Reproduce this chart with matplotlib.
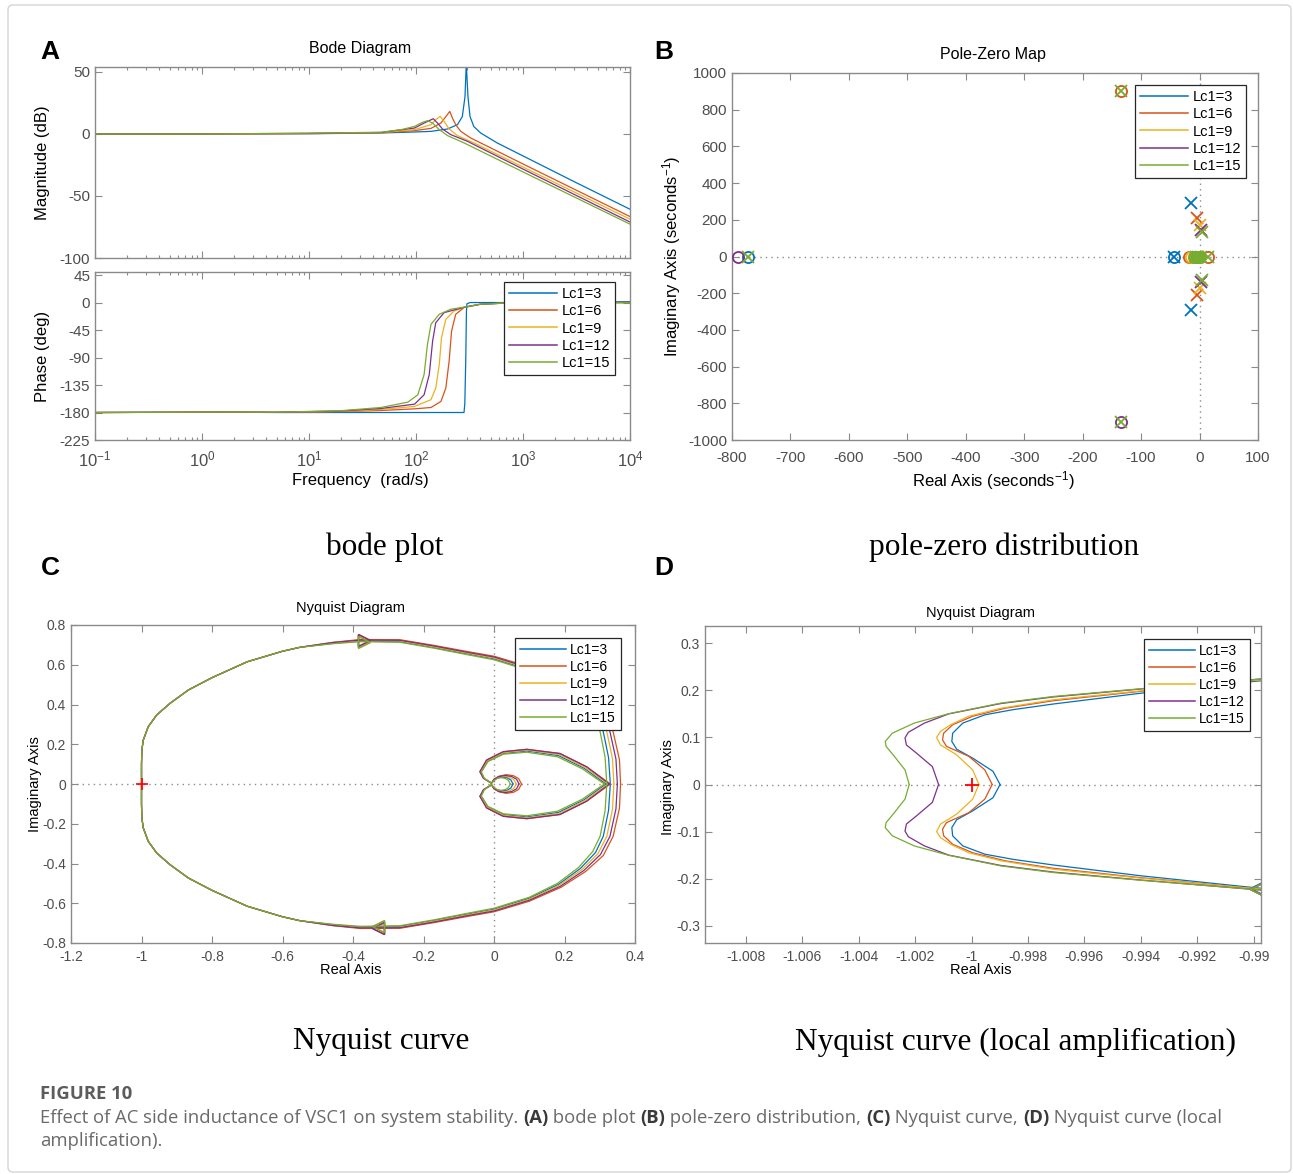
import numpy as np
import matplotlib
matplotlib.use("Agg")
import matplotlib.pyplot as plt
from matplotlib.patches import FancyBboxPatch
from matplotlib.lines import Line2D
from matplotlib.ticker import LogLocator, NullFormatter, FuncFormatter

plt.rcParams['font.family'] = ['Liberation Sans', 'DejaVu Sans']
plt.rcParams['mathtext.fontset'] = 'custom'
plt.rcParams['mathtext.rm'] = 'Liberation Sans'
plt.rcParams['mathtext.it'] = 'Liberation Sans:italic'
plt.rcParams['mathtext.bf'] = 'Liberation Sans:bold'
plt.rcParams['axes.unicode_minus'] = False

# ---------------- data ----------------
labels = ['Lc1=3', 'Lc1=6', 'Lc1=9', 'Lc1=12', 'Lc1=15']
colors = ['#0072BD', '#D95319', '#EDB120', '#7E2F8E', '#77AC30']

# Bode magnitude (rad/s, dB)
mag_w_3 = [0.1, 1, 10, 47, 97, 138, 197, 244, 271, 287, 295, 306, 320, 347, 402, 573, 1000, 3000, 10000]
mag_db_3 = [0, 0.05, 0.2, 0.8, 1.6, 2.1, 4.0, 7.5, 14, 30, 57, 30, 14, 6, 0.8, -7.2, -17.7, -38.4, -60.7]
mag_w_6 = [0.1, 1, 10, 47, 97, 138, 171, 190, 207, 219, 235, 262, 324, 498, 1000, 10000]
mag_db_6 = [0, 0.05, 0.3, 1.0, 2.7, 4.5, 8.8, 14, 18.2, 12.8, 7.5, 2.1, -3.2, -11.2, -24.2, -66.6]
mag_w_9 = [0.1, 1, 10, 47, 97, 138, 153, 168, 183, 204, 244, 348, 1000, 10000]
mag_db_9 = [0, 0.05, 0.4, 1.1, 3.5, 7.5, 11.5, 14.2, 10.2, 4.0, -1.3, -7.2, -26.7, -68.7]
mag_w_12 = [0.1, 1, 10, 47, 97, 119, 145, 159, 177, 211, 302, 1000, 10000]
mag_db_12 = [0, 0.05, 0.5, 1.2, 4.8, 8.8, 12.3, 8.8, 4.0, -0.5, -5.9, -28.3, -71.0]
mag_w_15 = [0.1, 1, 10, 47, 73, 97, 115, 128, 143, 165, 197, 281, 1000, 10000]
mag_db_15 = [0, 0.05, 0.6, 1.4, 3.5, 6.1, 9.4, 10.7, 8.8, 3.5, -1.3, -7.2, -30.6, -72.7]

# Bode phase (rad/s, deg)
ph_w_3 = [0.1, 1.5, 5, 281, 286, 292, 296, 299, 320, 1000, 3000, 10000]
ph_deg_3 = [-180, -179.4, -180, -180, -165, -90, -15, -2, 0, 0, 0.5, 1.5]
ph_w_6 = [0.1, 1.5, 5, 20, 47, 97, 138, 171, 190, 204, 215, 235, 281, 402, 762, 10000]
ph_deg_6 = [-180, -179.4, -179.8, -178.5, -176.7, -174, -171.8, -161.9, -140, -96, -46.7, -19.2, -8.2, -2.7, -0.5, 0]
ph_w_9 = [0.1, 1.5, 5, 20, 47, 97, 138, 153, 165, 173, 190, 227, 291, 402, 762, 10000]
ph_deg_9 = [-180, -179.4, -179.7, -178, -175, -170, -159, -140, -101.5, -57.6, -27.4, -13.7, -7.1, -2.7, -0.5, 0]
ph_w_12 = [0.1, 1.5, 5, 20, 47, 97, 119, 133, 143, 153, 183, 291, 402, 762, 10000]
ph_deg_12 = [-180, -179.4, -179.6, -177.5, -173.4, -166.3, -151, -118, -63, -33, -16.5, -7.1, -2.7, -0.5, 0]
ph_w_15 = [0.1, 1.5, 5, 20, 47, 84, 104, 119, 128, 138, 165, 211, 291, 402, 762, 10000]
ph_deg_15 = [-180, -179.4, -179.5, -177, -171.8, -163, -151, -118, -68.6, -35.7, -19.2, -11, -7.1, -2.7, -0.5, 0]

# Pole-zero map (real, imag)
zero_re_3 = [-772, -44, -5]
zero_im_3 = [0, 0, 0]
pole_re_3 = [-44, -15, -15]
pole_im_3 = [0, 293, -293]
zero_re_6 = [-17.5, 15, -134.5]
zero_im_6 = [0, 0, 903]
pole_re_6 = [-3.8, -3.8]
pole_im_6 = [211, -210]
zero_re_9 = [-14, -10]
zero_im_9 = [0, 0]
pole_re_9 = [0.9, 0.9]
pole_im_9 = [173, -173]
zero_re_12 = [-790, -134.5]
zero_im_12 = [0, -903]
pole_re_12 = [2.6, 2.6]
pole_im_12 = [146, -140]
zero_re_15 = [-9, -7, -5, -3, -1, 1]
zero_im_15 = [0, 0, 0, 0, 0, 0]
pole_re_15 = [-772, -134.5, -134.5, 15, 4.3, 4.3, -6, -2, 2]
pole_im_15 = [0, 903, -903, 0, 133, -128, 0, 0, 0]

# Nyquist (full view) : common left arc, upper half
nyq_left_re = [-1.0, -1.0, -0.999, -0.995, -0.981, -0.957, -0.919, -0.867, -0.8, -0.7, -0.6, -0.55]
nyq_left_im = [0.0, 0.10, 0.17, 0.221, 0.288, 0.347, 0.406, 0.473, 0.535, 0.615, 0.668, 0.688]
# per-series right part of the arc, upper half
arc_re_3 = [-0.456, -0.38, -0.267, -0.172, -0.077, 0.0, 0.1, 0.183, 0.245, 0.288, 0.31, 0.325, 0.33]
arc_im_3 = [0.708, 0.719, 0.716, 0.687, 0.655, 0.630, 0.575, 0.505, 0.425, 0.345, 0.263, 0.133, 0.0]
arc_re_6 = [-0.456, -0.38, -0.267, -0.172, -0.077, 0.0, 0.1, 0.19, 0.26, 0.31, 0.338, 0.356, 0.359]
arc_im_6 = [0.713, 0.727, 0.726, 0.698, 0.667, 0.643, 0.59, 0.52, 0.44, 0.36, 0.263, 0.121, 0.0]
arc_re_9 = [-0.456, -0.38, -0.267, -0.172, -0.077, 0.0, 0.1, 0.185, 0.25, 0.295, 0.32, 0.336, 0.34]
arc_im_9 = [0.710, 0.721, 0.720, 0.691, 0.659, 0.634, 0.58, 0.51, 0.43, 0.35, 0.263, 0.129, 0.0]
arc_re_12 = [-0.456, -0.38, -0.267, -0.172, -0.077, 0.0, 0.1, 0.188, 0.255, 0.302, 0.329, 0.346, 0.35]
arc_im_12 = [0.712, 0.724, 0.723, 0.695, 0.663, 0.639, 0.585, 0.515, 0.435, 0.355, 0.263, 0.125, 0.0]
arc_re_15 = [-0.456, -0.38, -0.267, -0.172, -0.077, 0.0, 0.1, 0.18, 0.24, 0.28, 0.301, 0.315, 0.32]
arc_im_15 = [0.706, 0.716, 0.713, 0.684, 0.651, 0.625, 0.57, 0.50, 0.42, 0.34, 0.263, 0.137, 0.0]
# lobe + small loop, upper half
lobe_re_3 = [0.318, 0.255, 0.183, 0.093, 0.027, -0.018, -0.037, -0.028, -0.007, 0.0, 0.01, 0.024, 0.038, 0.048, 0.054]
lobe_im_3 = [0.0, 0.08, 0.143, 0.166, 0.154, 0.115, 0.06, 0.028, 0.004, 0.019, 0.031, 0.035, 0.031, 0.02, 0.0]
lobe_re_6 = [0.33, 0.263, 0.187, 0.093, 0.026, -0.021, -0.04, -0.03, -0.007, 0.0, 0.015, 0.035, 0.055, 0.07, 0.078]
lobe_im_6 = [0.0, 0.087, 0.154, 0.175, 0.163, 0.121, 0.062, 0.029, 0.004, 0.025, 0.04, 0.047, 0.042, 0.027, 0.0]
lobe_re_9 = [0.323, 0.258, 0.185, 0.093, 0.027, -0.019, -0.038, -0.029, -0.007, 0.0, 0.012, 0.028, 0.044, 0.056, 0.063]
lobe_im_9 = [0.0, 0.083, 0.148, 0.17, 0.158, 0.117, 0.061, 0.028, 0.004, 0.021, 0.034, 0.039, 0.035, 0.022, 0.0]
lobe_re_12 = [0.327, 0.262, 0.187, 0.093, 0.026, -0.021, -0.04, -0.03, -0.007, 0.0, 0.013, 0.032, 0.05, 0.064, 0.071]
lobe_im_12 = [0.0, 0.087, 0.153, 0.174, 0.162, 0.12, 0.062, 0.029, 0.004, 0.023, 0.037, 0.043, 0.038, 0.024, 0.0]
lobe_re_15 = [0.313, 0.25, 0.18, 0.093, 0.027, -0.017, -0.036, -0.027, -0.007, 0.0, 0.009, 0.02, 0.032, 0.041, 0.046]
lobe_im_15 = [0.0, 0.077, 0.137, 0.16, 0.15, 0.113, 0.06, 0.027, 0.004, 0.017, 0.028, 0.032, 0.028, 0.018, 0.0]
arrow_top_im = [0.719, 0.727, 0.721, 0.724, 0.716]
arrow_bot_im = [-0.719, -0.727, -0.721, -0.724, -0.716]

# Nyquist (local amplification), upper half
zoom_re_3 = [-0.99899, -0.99924, -0.99996, -1.00053, -1.0007, -1.00067, -1.00031, -0.99953, -0.99853, -0.9971, -0.99399, -0.990, -0.9895]
zoom_im_3 = [0.0, 0.028, 0.056, 0.075, 0.0915, 0.109, 0.1305, 0.148, 0.159, 0.171, 0.194, 0.219, 0.2215]
zoom_re_6 = [-0.99927, -0.99953, -1.0001, -1.00089, -1.00103, -1.00099, -1.00067, -0.99996, -0.99881, -0.9971, -0.99399, -0.990, -0.9895]
zoom_im_6 = [0.0, 0.031, 0.06, 0.081, 0.095, 0.109, 0.127, 0.145, 0.162, 0.178, 0.198, 0.221, 0.2235]
zoom_re_9 = [-0.99974, -0.99996, -1.00053, -1.0011, -1.00124, -1.0011, -1.00074, -1.0001, -0.99896, -0.9971, -0.99399, -0.990, -0.9895]
zoom_im_9 = [0.0, 0.031, 0.063, 0.084, 0.1, 0.113, 0.127, 0.145, 0.162, 0.18, 0.199, 0.221, 0.2235]
zoom_re_12 = [-1.00117, -1.00139, -1.00196, -1.00231, -1.00236, -1.00224, -1.00167, -1.00081, -0.99896, -0.9971, -0.99399, -0.990, -0.9895]
zoom_im_12 = [0.0, 0.038, 0.067, 0.084, 0.099, 0.111, 0.1305, 0.150, 0.172, 0.186, 0.203, 0.223, 0.2255]
zoom_re_15 = [-1.00221, -1.00236, -1.00274, -1.00303, -1.00306, -1.00281, -1.00203, -1.00081, -0.99896, -0.9971, -0.99399, -0.990, -0.9895]
zoom_im_15 = [0.0, 0.031, 0.06, 0.081, 0.0915, 0.109, 0.1305, 0.1504, 0.173, 0.187, 0.2035, 0.2227, 0.225]
zoom_arrow_re = [-0.98992, -0.98992, -0.98992, -0.98992, -0.98992]
zoom_arrow_im = [-0.219, -0.221, -0.221, -0.223, -0.2227]

# ---------------- figure ----------------
W, H = 1293, 1174
fig = plt.figure(figsize=(W / 100, H / 100), dpi=100)
fig.patch.set_facecolor('white')
fig.patches.append(FancyBboxPatch((8 / W, 2 / H), 1283 / W, 1167 / H,
                                  boxstyle='round,pad=0,rounding_size=0.004',
                                  transform=fig.transFigure, fill=False,
                                  edgecolor='#d4d4d4', linewidth=1.0))

SP = '#8a8a8a'
TL = '#4d4d4d'


def ax_at(l, t, r, b):
    return fig.add_axes([l / W, 1 - b / H, (r - l) / W, (b - t) / H])


def style(ax, fs):
    for s in ax.spines.values():
        s.set_color(SP)
        s.set_linewidth(1.0)
    ax.tick_params(which='both', direction='in', top=True, right=True,
                   color=SP, labelcolor=TL, labelsize=fs, width=0.8)
    ax.tick_params(which='major', length=5)
    ax.tick_params(which='minor', length=2.5)


def ftext(x, y, s, **kw):
    return fig.text(x / W, 1 - y / H, s, ha=kw.pop('ha', 'center'),
                    va=kw.pop('va', 'center'), **kw)


def legend(ax, anchor, fs):
    hs = [Line2D([], [], color=c, lw=1.1) for c in colors]
    lg = ax.legend(hs, labels, loc='upper right', bbox_to_anchor=anchor,
                   fontsize=fs, handlelength=3.3, handletextpad=0.3,
                   labelspacing=0.22, borderpad=0.35, borderaxespad=0,
                   frameon=True, fancybox=False, framealpha=1,
                   edgecolor='#262626')
    lg.get_frame().set_linewidth(0.9)
    return lg


gfmt = FuncFormatter(lambda v, p: '%g' % round(v, 6) if abs(v) > 1e-12 else '0')

# ---- A: Bode ----
axm = ax_at(95, 67, 630, 258)
axp = ax_at(95, 272, 630, 440)
mag_w = [mag_w_3, mag_w_6, mag_w_9, mag_w_12, mag_w_15]
mag_db = [mag_db_3, mag_db_6, mag_db_9, mag_db_12, mag_db_15]
ph_w = [ph_w_3, ph_w_6, ph_w_9, ph_w_12, ph_w_15]
ph_deg = [ph_deg_3, ph_deg_6, ph_deg_9, ph_deg_12, ph_deg_15]
for i in range(5):
    axm.plot(mag_w[i], mag_db[i], color=colors[i], lw=0.9)
    axp.plot(ph_w[i], ph_deg[i], color=colors[i], lw=0.9)
for ax in (axm, axp):
    ax.set_xscale('log')
    ax.set_xlim(0.1, 1e4)
    ax.xaxis.set_major_locator(LogLocator(base=10, numticks=12))
    ax.xaxis.set_minor_locator(LogLocator(base=10, subs=np.arange(2, 10) * 1.0, numticks=100))
    ax.xaxis.set_minor_formatter(NullFormatter())
    style(ax, 11)
axm.set_ylim(-100, 54)
axm.set_yticks([-100, -50, 0, 50])
axm.tick_params(labelbottom=False)
axp.set_ylim(-225, 50)
axp.set_yticks([-225, -180, -135, -90, -45, 0, 45])
axp.tick_params(axis='x', labelsize=12, pad=7)
legend(axp, ((615 - 95) / 535, (440 - 282) / 168), 10.5)
ftext(50, 52, 'A', fontsize=19, fontweight='bold')
ftext(360, 48, 'Bode Diagram', fontsize=11.5)
ftext(42, 163, 'Magnitude (dB)', fontsize=12, rotation=90)
ftext(42, 356, 'Phase (deg)', fontsize=12, rotation=90)
ftext(360, 481, 'Frequency  (rad/s)', fontsize=12)

# ---- B: Pole-zero ----
axb = ax_at(732, 73, 1258, 440)
zr = [zero_re_3, zero_re_6, zero_re_9, zero_re_12, zero_re_15]
zi = [zero_im_3, zero_im_6, zero_im_9, zero_im_12, zero_im_15]
pr = [pole_re_3, pole_re_6, pole_re_9, pole_re_12, pole_re_15]
pi_ = [pole_im_3, pole_im_6, pole_im_9, pole_im_12, pole_im_15]
axb.axhline(0, color='#8c8c8c', ls=(0, (1, 3)), lw=1.0, zorder=1)
axb.axvline(0, color='#8c8c8c', ls=(0, (1, 3)), lw=1.0, zorder=1)
for i in range(5):
    axb.plot(zr[i], zi[i], ls='none', marker='o', ms=8, mfc='none',
             mec=colors[i], mew=1.3, zorder=3)
    axb.plot(pr[i], pi_[i], ls='none', marker='x', ms=8, mec=colors[i],
             mew=1.3, zorder=4)
axb.set_xlim(-800, 100)
axb.set_ylim(-1000, 1000)
axb.set_xticks(np.arange(-800, 101, 100))
axb.set_yticks(np.arange(-1000, 1001, 200))
style(axb, 11)
axb.tick_params(axis='x', pad=8)
legend(axb, ((1246 - 732) / 526, (440 - 85) / 367), 10.5)
ftext(664, 52, 'B', fontsize=19, fontweight='bold')
ftext(993, 55, 'Pole-Zero Map', fontsize=11.5)
ftext(993, 481, 'Real Axis (seconds$^{-1}$)', fontsize=12)
ftext(672, 256, 'Imaginary Axis (seconds$^{-1}$)', fontsize=12, rotation=90)

# ---- C: Nyquist ----
axc = ax_at(71, 625, 635, 943)
arc_re = [arc_re_3, arc_re_6, arc_re_9, arc_re_12, arc_re_15]
arc_im = [arc_im_3, arc_im_6, arc_im_9, arc_im_12, arc_im_15]
lobe_re = [lobe_re_3, lobe_re_6, lobe_re_9, lobe_re_12, lobe_re_15]
lobe_im = [lobe_im_3, lobe_im_6, lobe_im_9, lobe_im_12, lobe_im_15]
axc.axhline(0, color='#8c8c8c', ls=(0, (1, 3)), lw=1.0, zorder=1)
axc.axvline(0, color='#8c8c8c', ls=(0, (1, 3)), lw=1.0, zorder=1)
for i in range(5):
    ure = np.concatenate([nyq_left_re, arc_re[i]])
    uim = np.concatenate([nyq_left_im, arc_im[i]])
    axc.plot(ure, uim, color=colors[i], lw=0.9)
    axc.plot(ure, -uim, color=colors[i], lw=0.9)
    axc.plot(lobe_re[i], lobe_im[i], color=colors[i], lw=0.9)
    axc.plot(lobe_re[i], -np.asarray(lobe_im[i]), color=colors[i], lw=0.9)
    axc.plot([-0.37], [arrow_top_im[i]], marker='>', ms=8, mfc='none',
             mec=colors[i], mew=1.0)
    axc.plot([-0.33], [arrow_bot_im[i]], marker='<', ms=8, mfc='none',
             mec=colors[i], mew=1.0)
axc.plot([-1], [0], marker='+', color='red', ms=9, mew=1.2)
axc.set_xlim(-1.2, 0.4)
axc.set_ylim(-0.8, 0.8)
axc.set_xticks(np.round(np.arange(-1.2, 0.41, 0.2), 1))
axc.set_yticks(np.round(np.arange(-0.8, 0.81, 0.2), 1))
axc.xaxis.set_major_formatter(gfmt)
axc.yaxis.set_major_formatter(gfmt)
style(axc, 10)
axc.tick_params(axis='x', pad=5)
legend(axc, ((621 - 71) / 564, (943 - 638) / 318), 10)
ftext(50, 568, 'C', fontsize=19, fontweight='bold')
ftext(351, 608, 'Nyquist Diagram', fontsize=10.5)
ftext(351, 970, 'Real Axis', fontsize=10.5)
ftext(35, 784, 'Imaginary Axis', fontsize=10.5, rotation=90)

# ---- D: Nyquist zoom ----
axd = ax_at(705, 626, 1261, 943)
zre = [zoom_re_3, zoom_re_6, zoom_re_9, zoom_re_12, zoom_re_15]
zim = [zoom_im_3, zoom_im_6, zoom_im_9, zoom_im_12, zoom_im_15]
axd.axhline(0, color='#8c8c8c', ls=(0, (1, 3)), lw=1.0, zorder=1)
for i in range(5):
    axd.plot(zre[i], zim[i], color=colors[i], lw=0.9)
    axd.plot(zre[i], -np.asarray(zim[i]), color=colors[i], lw=0.9)
    axd.plot([zoom_arrow_re[i]], [zoom_arrow_im[i]], marker='<', ms=8,
             mfc='none', mec=colors[i], mew=1.0)
axd.plot([-1], [0], marker='+', color='red', ms=10, mew=1.3)
axd.set_xlim(-1.00945, -0.98974)
axd.set_ylim(-0.3367, 0.3367)
axd.set_xticks([-1.008, -1.006, -1.004, -1.002, -1.0, -0.998, -0.996, -0.994, -0.992, -0.99])
axd.set_yticks([-0.3, -0.2, -0.1, 0, 0.1, 0.2, 0.3])
axd.xaxis.set_major_formatter(gfmt)
axd.yaxis.set_major_formatter(gfmt)
style(axd, 10)
axd.tick_params(axis='x', pad=5)
legend(axd, ((1250 - 705) / 556, (943 - 639) / 317), 10)
ftext(664, 568, 'D', fontsize=19, fontweight='bold')
ftext(981, 613, 'Nyquist Diagram', fontsize=10.5)
ftext(981, 970, 'Real Axis', fontsize=10.5)
ftext(668, 787, 'Imaginary Axis', fontsize=10.5, rotation=90)

# ---- serif captions ----
serif = ['Liberation Serif', 'DejaVu Serif']
ftext(385, 547, 'bode plot', fontsize=22.5, family=serif)
ftext(1004, 547, 'pole-zero distribution', fontsize=22.5, family=serif)
ftext(381, 1042, 'Nyquist curve', fontsize=22.5, family=serif)
ftext(1015, 1042, 'Nyquist curve (local amplification)', fontsize=22.5, family=serif)

# ---- figure caption ----
cap_family = ['Open Sans', 'DejaVu Sans']
ftext(40, 1094, 'FIGURE 10', fontsize=13.3, family=cap_family, fontweight='bold',
      color='#5c5c5c', ha='left')
renderer = fig.canvas.get_renderer()


def rich(x, y, parts):
    for txt, bold in parts:
        t = ftext(x, y, txt, fontsize=13.3, family=cap_family, ha='left',
                  fontweight='bold' if bold else 'normal',
                  color='#3a3a3a' if bold else '#6a6a6a')
        x += t.get_window_extent(renderer=renderer).width


rich(40, 1118, [('Effect of AC side inductance of VSC1 on system stability. ', False),
                ('(A)', True), (' bode plot ', False), ('(B)', True),
                (' pole-zero distribution, ', False), ('(C)', True),
                (' Nyquist curve, ', False), ('(D)', True),
                (' Nyquist curve (local', False)])
rich(40, 1141, [('amplification).', False)])

fig.savefig('out.png', dpi=100)
